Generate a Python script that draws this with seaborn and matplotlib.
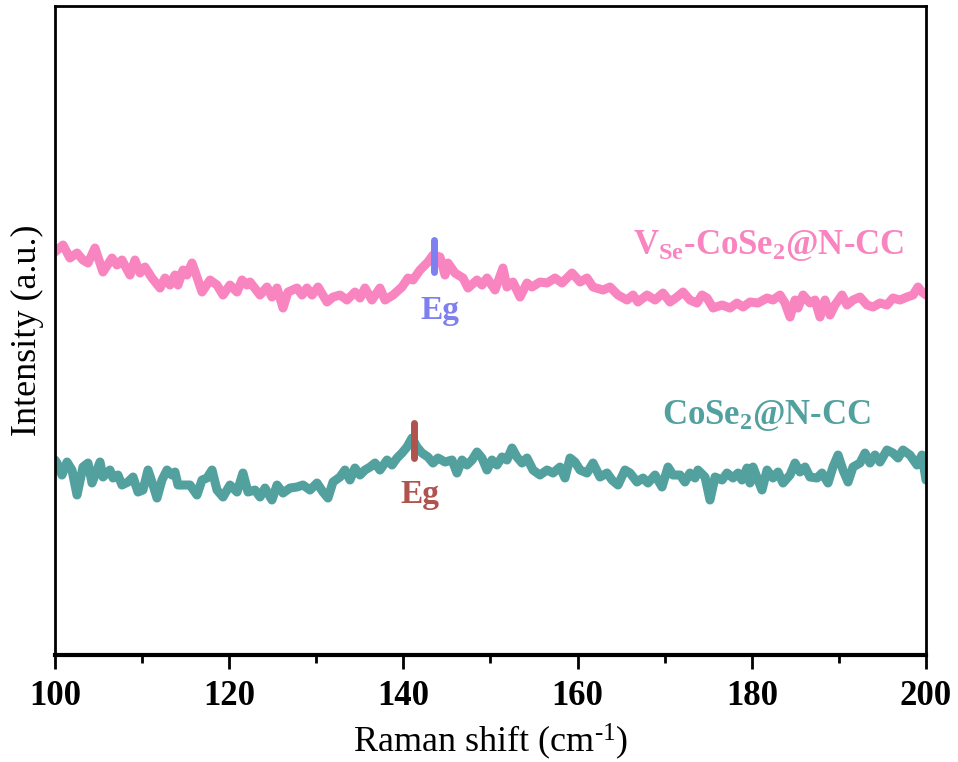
import numpy as np
import pandas as pd
import matplotlib
matplotlib.use("Agg")
import matplotlib.pyplot as plt
import seaborn as sns
from matplotlib.ticker import MultipleLocator

# Raman spectra (Raman shift in cm^-1, intensity in arbitrary units)
vse_shift = [100.00, 100.92, 101.72, 102.53, 103.21, 103.79, 104.59, 105.51, 106.54, 107.12,
             107.69, 108.61, 109.18, 109.76, 110.33, 111.14, 112.06, 112.63, 113.20, 113.78,
             114.12, 114.70, 115.15, 115.73, 116.30, 116.88, 117.80, 118.60, 119.29, 120.09,
             120.90, 121.47, 122.04, 122.39, 123.54, 124.34, 124.91, 125.49, 126.18, 126.75,
             127.78, 128.36, 128.93, 129.51, 130.20, 131.23, 131.92,
             132.72, 133.52, 134.44, 135.02, 135.59, 136.39, 137.31, 137.89, 138.81, 139.84,
             140.53, 141.10, 141.91, 142.82, 143.40, 144.20, 144.78, 145.12, 145.92, 146.84,
             147.42, 148.45, 149.02, 149.60, 150.52, 151.43, 151.89, 152.58, 153.39, 154.19,
             154.76, 155.68, 156.49, 157.41, 158.21, 159.36, 160.28, 161.08, 161.77, 162.92,
             163.72, 164.64, 165.67, 166.36,
             166.93, 167.97, 168.89, 169.80, 170.61, 171.41, 172.10, 172.90, 173.71, 174.28,
             174.86, 175.55, 176.58, 177.50, 178.30, 178.99, 179.79, 180.71, 181.75, 182.43,
             183.24, 183.81, 184.39, 184.96, 185.30, 185.88, 186.68, 187.26, 187.83, 188.40,
             188.98, 189.55, 190.36, 190.93, 191.62, 192.42, 193.23, 193.92, 194.72, 195.52,
             196.21, 197.01, 197.82, 198.51, 199.08, 199.54, 200.00]
vse_intensity = [403, 410, 397, 402, 395, 392, 407, 383, 397, 390,
                 395, 380, 395, 382, 388, 377, 367, 377, 370, 380,
                 370, 385, 380, 392, 378, 363, 375, 370, 360, 370,
                 363, 375, 370, 373, 360, 368, 358, 367, 347, 363,
                 367, 360, 367, 360, 368, 353, 358,
                 360, 355, 363, 357, 367, 355, 367, 355, 360, 368,
                 377, 375, 385, 393, 400, 398, 380, 392, 382, 377,
                 367, 375, 370, 377, 365, 387, 368, 373, 358, 372,
                 368, 373, 372, 377, 372, 382, 373, 377, 368, 365,
                 368, 360, 355, 360,
                 353, 360, 355, 362, 353, 358, 363, 355, 352, 360,
                 357, 347, 350, 347, 352, 348, 353, 352, 357, 355,
                 360, 352, 338, 355, 347, 360, 352, 355, 338, 355,
                 340, 350, 360, 350, 355, 358, 350, 348, 352, 350,
                 357, 355, 358, 360, 368, 363, 360]

cose_shift = [100.00, 100.23, 100.80, 101.38, 101.95, 102.53, 103.21, 103.79, 104.25, 104.82,
              105.17, 105.51, 106.31, 106.66, 107.23, 107.69, 108.38, 108.96, 109.53, 110.10,
              110.68, 111.25, 111.71, 112.28, 112.86, 113.43, 113.78, 114.12, 114.70, 115.50,
              116.30, 116.88, 117.45, 118.03, 118.60, 119.29, 120.09, 120.90, 121.58, 122.16,
              122.96, 123.54, 124.11, 124.91, 125.49, 126.18, 126.98, 127.78, 128.47, 129.28,
              130.08, 130.77, 131.34, 131.92,
              132.72, 133.29, 133.87, 134.44, 135.02, 135.59, 136.17, 136.74, 137.31, 138.12,
              138.69, 139.27, 139.84, 140.41, 140.99, 141.56, 142.14, 142.82, 143.40, 143.97,
              144.78, 145.58, 146.15, 146.73, 147.30, 147.88, 148.45, 149.02, 149.60, 150.17,
              150.75, 151.32, 151.89, 152.47, 153.04, 153.62, 154.19, 154.88, 155.68, 156.49,
              157.18, 157.98, 158.55, 159.13, 159.70, 160.28, 161.08, 161.77, 162.57, 163.38,
              163.95, 164.64, 165.44,
              166.02, 166.82, 167.51, 168.08, 168.89, 169.69, 170.38, 170.95, 171.76, 172.33,
              172.90, 173.48, 173.82, 174.63, 175.20, 175.78, 176.58, 177.15, 177.84, 178.42,
              178.87, 179.45, 179.79, 180.14, 180.71, 181.17, 181.75, 182.43, 183.01, 183.58,
              184.39, 184.96, 185.53, 186.11, 186.68, 187.49, 188.06, 188.75, 189.32, 189.90,
              190.47, 191.05, 191.62, 192.42, 193.00, 193.57, 194.14, 194.72, 195.52, 196.21,
              196.79, 197.36, 198.16, 198.97, 199.54, 200.00]
cose_intensity = [195,
                  192, 180, 193, 185, 160, 188, 192, 172, 185, 193,
                  178, 185, 177, 180, 170, 173, 178, 163, 165, 185,
                  170, 157, 175, 185, 180, 183, 170, 170, 170, 160,
                  175, 177, 185, 165, 158, 170, 163, 182, 163, 165,
                  158, 167, 155, 170, 162, 167, 168, 170, 165, 172,
                  163, 157, 173,
                  178, 185, 175, 187, 180, 185, 188, 192, 185, 195,
                  190, 197, 202, 208, 217, 208, 202, 198, 192, 197,
                  193, 195, 182, 195, 190, 195, 203, 197, 185, 195,
                  190, 198, 195, 207, 198, 192, 197, 185, 180, 185,
                  182, 188, 177, 197, 193, 185, 182, 192, 178, 182,
                  175, 170, 185,
                  182, 173, 177, 172, 180, 168, 188, 180, 180, 173,
                  182, 177, 185, 178, 155, 178, 175, 182, 177, 182,
                  175, 187, 172, 188, 175, 165, 185, 177, 183, 172,
                  180, 192, 183, 188, 178, 177, 182, 172, 188, 200,
                  185, 173, 188, 192, 202, 192, 200, 193, 205, 202,
                  197, 205, 200, 190, 200, 175]

# Eg mode markers: position and vertical extent
eg_vse_shift = 143.5
eg_vse_range = [383, 415]
eg_cose_shift = 141.2
eg_cose_range = [197, 232]

pink = "#F884C0"
teal = "#52A19F"
violet = "#7F80F0"
brown = "#B0524E"

sns.set_style("white")
plt.rcParams["font.family"] = ["Liberation Serif", "DejaVu Serif"]
plt.rcParams["mathtext.fontset"] = "custom"
plt.rcParams["mathtext.rm"] = "Liberation Serif"
plt.rcParams["mathtext.bf"] = "Liberation Serif:bold"
plt.rcParams["mathtext.it"] = "Liberation Serif:italic"
plt.rcParams["text.color"] = "black"
plt.rcParams["axes.labelcolor"] = "black"
plt.rcParams["xtick.color"] = "black"
plt.rcParams["ytick.color"] = "black"

fig = plt.figure(figsize=(9.58, 7.62), dpi=100)
ax = fig.add_axes([0.0574, 0.1404, 0.9092, 0.8517])

df_vse = pd.DataFrame({"shift": vse_shift, "intensity": vse_intensity})
df_cose = pd.DataFrame({"shift": cose_shift, "intensity": cose_intensity})

sns.lineplot(data=df_vse, x="shift", y="intensity", color=pink, lw=6.5,
             sort=False, ax=ax, solid_capstyle="round", solid_joinstyle="round")
sns.lineplot(data=df_cose, x="shift", y="intensity", color=teal, lw=6.5,
             sort=False, ax=ax, solid_capstyle="round", solid_joinstyle="round")

ax.plot([eg_vse_shift, eg_vse_shift], eg_vse_range, color=violet, lw=5,
        solid_capstyle="round")
ax.plot([eg_cose_shift, eg_cose_shift], eg_cose_range, color=brown, lw=5,
        solid_capstyle="round")

ax.text(144.2, 345, "Eg", color=violet, fontsize=24, fontweight="bold",
        ha="center", va="center")
ax.text(141.9, 161, "Eg", color=brown, fontsize=24, fontweight="bold",
        ha="center", va="center")
ax.text(181.9, 410, r"V$_{\mathbf{Se}}$-CoSe$_{\mathbf{2}}$@N-CC", color=pink,
        fontsize=25, fontweight="bold", ha="center", va="center")
ax.text(181.7, 240, r"CoSe$_{\mathbf{2}}$@N-CC", color=teal,
        fontsize=25, fontweight="bold", ha="center", va="center")

ax.set_xlim(100, 200)
ax.set_ylim(0, 649)
ax.xaxis.set_major_locator(MultipleLocator(20))
ax.xaxis.set_minor_locator(MultipleLocator(10))
ax.set_yticks([])
ax.tick_params(axis="x", which="major", direction="out", length=10, width=2,
               bottom=True, labelsize=25, pad=8, colors="black")
ax.tick_params(axis="x", which="minor", direction="out", length=6, width=2,
               bottom=True, colors="black")
for lab in ax.get_xticklabels():
    lab.set_fontweight("bold")

for side in ["left", "right", "top"]:
    ax.spines[side].set_linewidth(2)
    ax.spines[side].set_color("black")
ax.spines["bottom"].set_linewidth(3)
ax.spines["bottom"].set_color("black")

ax.set_xlabel(r"Raman shift (cm$^{\text{-}1}$)", fontsize=26, labelpad=6,
              color="black")
ax.set_ylabel("Intensity (a.u.)", fontsize=26, labelpad=8, color="black")

fig.savefig("out.png", dpi=100)
